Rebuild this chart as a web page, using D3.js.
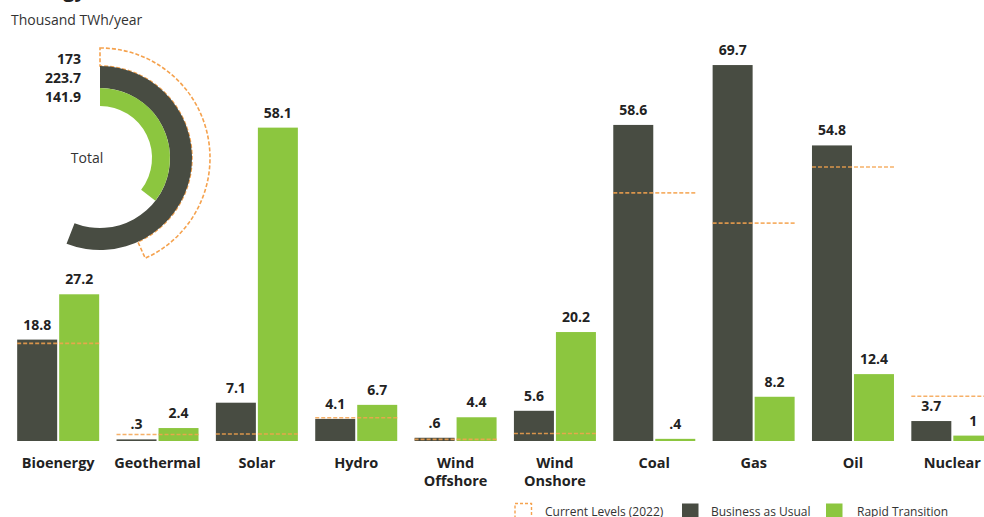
<!DOCTYPE html>
<html>
<head>
<meta charset="utf-8">
<script src="https://cdn.jsdelivr.net/npm/d3@7"></script>
<style>
  html, body { margin: 0; padding: 0; background: #ffffff; }
  svg { display: block; font-family: "Open Sans", "Noto Sans", sans-serif; }
</style>
</head>
<body>
<svg id="chart" width="984" height="517"></svg>
<script>
// Energy by source, thousand TWh per year
const categories = ["Bioenergy", "Geothermal", "Solar", "Hydro", "Wind Offshore",
                    "Wind Onshore", "Coal", "Gas", "Oil", "Nuclear"];
const businessAsUsual = [18.8, 0.3, 7.1, 4.1, 0.6, 5.6, 58.6, 69.7, 54.8, 3.7];
const rapidTransition = [27.2, 2.4, 58.1, 6.7, 4.4, 20.2, 0.4, 8.2, 12.4, 1];
const currentLevels   = [18.1, 1.2, 1.3, 4.3, 0.3, 1.4, 46, 40.4, 50.8, 8.3];

// Totals shown in the half-ring
const totalSeries = ["Current Levels (2022)", "Business as Usual", "Rapid Transition"];
const totalValues = [173, 223.7, 141.9];

const COLORS = { current: "#f5a24e", bau: "#484c42", rapid: "#8cc63f" };

const svg = d3.select("#chart");
const fmt = v => String(v).replace(/^0\./, ".");

// ---- Headings ----
svg.append("text").attr("x", 18).attr("y", -3)
  .attr("font-size", 20).attr("font-weight", 700).attr("fill", "#222")
  .text("Energy");
svg.append("text").attr("x", 11).attr("y", 25)
  .attr("font-size", 14).attr("fill", "#333")
  .text("Thousand TWh/year");

// ---- Scales ----
const x = d3.scaleBand().domain(categories).range([8.5, 1002]).padding(0);
const sub = d3.scaleBand().domain(["bau", "rapid"]).range([-41, 41]).paddingInner(2 / 42);
const y = d3.scaleLinear().domain([0, 80]).range([441, 9.5]);
const center = c => x(c) + x.bandwidth() / 2;

const rows = categories.map((c, i) => ({
  cat: c, bau: businessAsUsual[i], rapid: rapidTransition[i], current: currentLevels[i]
}));

// ---- Bars ----
const groups = svg.append("g").selectAll("g").data(rows).join("g")
  .attr("transform", d => `translate(${center(d.cat)},0)`);

["bau", "rapid"].forEach(key => {
  groups.append("rect")
    .attr("x", sub(key))
    .attr("width", sub.bandwidth())
    .attr("y", d => y(d[key]))
    .attr("height", d => y(0) - y(d[key]))
    .attr("fill", COLORS[key]);

  groups.append("text")
    .attr("x", sub(key) + sub.bandwidth() / 2)
    .attr("y", d => y(d[key]) - 10)
    .attr("text-anchor", "middle")
    .attr("font-size", 14).attr("font-weight", 700).attr("fill", "#222")
    .text(d => fmt(d[key]));
});

// Current levels (2022) as dashed lines across each group
groups.append("line")
  .attr("x1", -41).attr("x2", 41)
  .attr("y1", d => y(d.current)).attr("y2", d => y(d.current))
  .attr("stroke", COLORS.current).attr("stroke-width", 1.6)
  .attr("stroke-opacity", 0.85)
  .attr("stroke-dasharray", "4,2");

// Category names, split into two lines where needed
groups.append("text")
  .attr("text-anchor", "middle")
  .attr("font-size", 14.5).attr("font-weight", 700).attr("fill", "#222")
  .each(function (d) {
    const words = d.cat.split(" ");
    d3.select(this).selectAll("tspan").data(words).join("tspan")
      .attr("x", 0)
      .attr("y", (w, i) => 468 + i * 18)
      .text(w => w);
  });

// ---- Total half-ring ----
const ringAngle = d3.scaleLinear().domain([0, 400]).range([0, 2 * Math.PI]);
const ring = svg.append("g").attr("transform", "translate(100,158)");

ring.append("path")
  .attr("d", d3.arc().innerRadius(92).outerRadius(110)
    .startAngle(0).endAngle(ringAngle(totalValues[0]))())
  .attr("fill", "none")
  .attr("stroke", COLORS.current).attr("stroke-width", 1.6)
  .attr("stroke-dasharray", "4,2");

ring.append("path")
  .attr("d", d3.arc().innerRadius(70).outerRadius(92)
    .startAngle(0).endAngle(ringAngle(totalValues[1]))())
  .attr("fill", COLORS.bau);

ring.append("path")
  .attr("d", d3.arc().innerRadius(52).outerRadius(70)
    .startAngle(0).endAngle(ringAngle(totalValues[2]))())
  .attr("fill", COLORS.rapid);

ring.append("text").attr("x", -13).attr("y", 5)
  .attr("text-anchor", "middle").attr("font-size", 14).attr("fill", "#333")
  .text("Total");

svg.append("g").selectAll("text").data(totalValues).join("text")
  .attr("x", 81)
  .attr("y", (d, i) => 64 + i * 19.2)
  .attr("text-anchor", "end")
  .attr("font-size", 14).attr("font-weight", 700).attr("fill", "#222")
  .text(d => fmt(d));

// ---- Legend ----
const legendItems = [
  { label: totalSeries[0], x: 515, key: "current", textX: 545 },
  { label: totalSeries[1], x: 682, key: "bau", textX: 711 },
  { label: totalSeries[2], x: 826, key: "rapid", textX: 857 }
];
const legend = svg.append("g");
legendItems.forEach(it => {
  const r = legend.append("rect")
    .attr("x", it.x).attr("y", 503.5).attr("width", 16.5).attr("height", 16);
  if (it.key === "current") {
    r.attr("fill", "none").attr("stroke", COLORS.current)
     .attr("stroke-width", 1.4).attr("stroke-dasharray", "3,2");
  } else {
    r.attr("fill", COLORS[it.key]);
  }
  legend.append("text").attr("x", it.textX).attr("y", 515.5)
    .attr("font-size", 12).attr("fill", "#333").text(it.label);
});
</script>
</body>
</html>
